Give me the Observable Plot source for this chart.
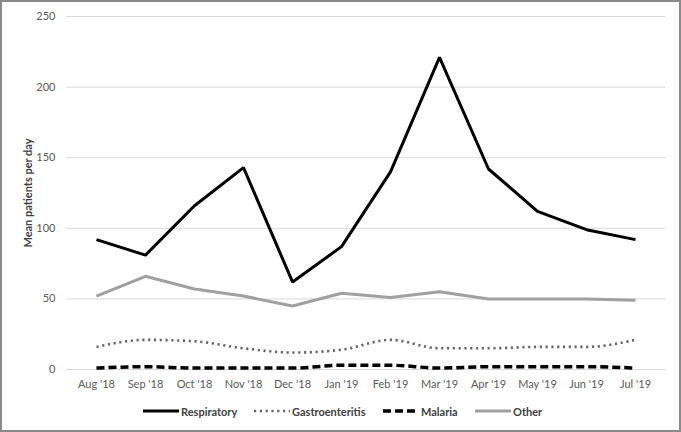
<!DOCTYPE html>
<html>
<head>
<meta charset="utf-8">
<script src="https://cdn.jsdelivr.net/npm/d3@7"></script>
<script src="https://cdn.jsdelivr.net/npm/@observablehq/plot@0.6"></script>
<style>
  body { margin: 0; background: #fff; font-family: Lato, "Open Sans", sans-serif; }
  #wrap { position: relative; width: 681px; height: 432px; overflow: hidden; background: #fff; }
  #frame { position: absolute; left: 0; top: 0; width: 681px; height: 432px; box-sizing: border-box; border: 2px solid #8a8a8a; pointer-events: none; }
  #chart { position: absolute; left: 0; top: 0; }
  #legend { position: absolute; left: 0; top: 401px; width: 681px; height: 20px; }
  #legend .item { position: absolute; top: 0; height: 20px; display: flex; align-items: center; font-size: 11px; font-weight: bold; color: #404040; }
  #legend svg { display: block; margin-right: 2px; }
</style>
</head>
<body>
<div id="wrap">
  <div id="chart"></div>
  <div id="legend"></div>
  <div id="frame"></div>
</div>
<script>
const months = ["Aug '18","Sep '18","Oct '18","Nov '18","Dec '18","Jan '19","Feb '19","Mar '19","Apr '19","May '19","Jun '19","Jul '19"];
const respiratory = [92, 81, 116, 143, 62, 87, 140, 221, 142, 112, 99, 92];
const gastroenteritis = [16, 21, 20, 15, 12, 14, 21, 15, 15, 16, 16, 21];
const malaria = [1, 2, 1, 1, 1, 3, 3, 1, 2, 2, 2, 1];
const other = [52, 66, 57, 52, 45, 54, 51, 55, 50, 50, 50, 49];
const yTicks = [0, 50, 100, 150, 200, 250];

const seriesNames = ["Respiratory", "Gastroenteritis", "Malaria", "Other"];
const seriesValues = [respiratory, gastroenteritis, malaria, other];
const styles = {
  Respiratory: {stroke: "#000000", strokeWidth: 3, dash: null, curve: "linear"},
  Gastroenteritis: {stroke: "#666666", strokeWidth: 2.6, dash: "2.2 3.6", curve: "monotone-x"},
  Malaria: {stroke: "#000000", strokeWidth: 3.5, dash: "8 4", curve: "monotone-x"},
  Other: {stroke: "#a0a0a0", strokeWidth: 3, dash: null, curve: "linear"}
};

const rows = (name) => months.map((m, i) => ({month: m, value: seriesValues[seriesNames.indexOf(name)][i], series: name}));

const lineMarks = seriesNames.map(name => Plot.line(rows(name), {
  x: "month", y: "value",
  stroke: styles[name].stroke,
  strokeWidth: styles[name].strokeWidth,
  strokeDasharray: styles[name].dash,
  strokeLinejoin: "miter",
  strokeLinecap: "butt",
  curve: styles[name].curve
}));

const plot = Plot.plot({
  width: 681,
  height: 395,
  marginTop: 16,
  marginBottom: 26,
  marginLeft: 66,
  marginRight: 16,
  style: {fontFamily: "Lato, 'Open Sans', sans-serif", fontSize: "11px", color: "#595959", background: "transparent"},
  x: {type: "point", domain: months, padding: 0.5, label: null},
  y: {domain: [0, 250], label: null},
  marks: [
    Plot.ruleY(yTicks, {stroke: "#d9d9d9", strokeWidth: 1}),
    Plot.axisY(yTicks, {tickSize: 0, tickPadding: 11, fill: "#595959", fontSize: 11, label: null}),
    Plot.axisX(months, {tickSize: 0, tickPadding: 11, fill: "#595959", fontSize: 11, label: null}),
    Plot.text(["Mean patients per day"], {
      frameAnchor: "left", dx: -38, rotate: -90, text: d => d, textAnchor: "middle",
      fontWeight: "bold", fontSize: 11, fill: "#404040"
    }),
    ...lineMarks
  ]
});
document.getElementById("chart").appendChild(plot);

// Legend
const legendPos = {Respiratory: 143, Gastroenteritis: 254, Malaria: 383, Other: 475};
const legend = document.getElementById("legend");
for (const name of seriesNames) {
  const s = styles[name];
  const item = document.createElement("div");
  item.className = "item";
  item.style.left = legendPos[name] + "px";
  const svg = d3.create("svg").attr("width", 36).attr("height", 20);
  svg.append("line").attr("x1", 0).attr("x2", 36).attr("y1", 10).attr("y2", 10)
    .attr("stroke", s.stroke).attr("stroke-width", s.strokeWidth)
    .attr("stroke-dasharray", s.dash);
  item.appendChild(svg.node());
  const label = document.createElement("span");
  label.textContent = name;
  item.appendChild(label);
  legend.appendChild(item);
}
</script>
</body>
</html>
